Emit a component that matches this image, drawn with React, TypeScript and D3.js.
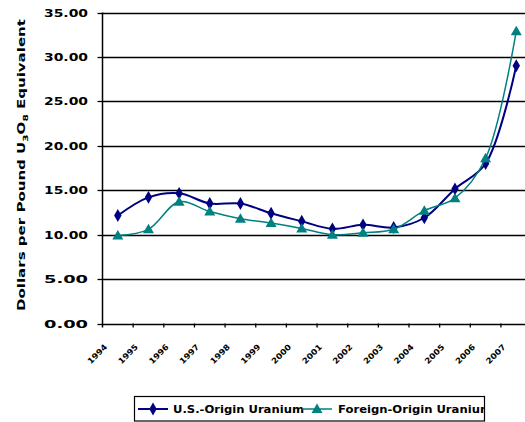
import React from "react";
import * as d3 from "d3";

const years = ["1994","1995","1996","1997","1998","1999","2000","2001","2002","2003","2004","2005","2006","2007"];
const usOrigin = [12.15, 14.2, 14.65, 13.5, 13.5, 12.4, 11.5, 10.65, 11.1, 10.8, 11.9, 15.15, 18.0, 29.0];
const foreignOrigin = [9.9, 10.6, 13.7, 12.6, 11.8, 11.3, 10.7, 10.0, 10.2, 10.6, 12.7, 14.1, 18.6, 32.9];
const yTicks = [0, 5, 10, 15, 20, 25, 30, 35];

const W = 525, H = 422;
const left = 102.5, top = 12.5, bottom = 323.5;
const step = 30.65;

export default function App() {
  const x = d3.scaleBand<string>().domain(years).range([left, left + step * years.length]).padding(0);
  const y = d3.scaleLinear().domain([0, 35]).range([bottom, top]);
  const cx = (i: number) => (x(years[i]) as number) + x.bandwidth() / 2;
  const line = d3.line<number>().x((_, i) => cx(i)).y((d) => y(d)).curve(d3.curveCatmullRom.alpha(0.5));
  const diamond = d3.symbol().type(d3.symbolDiamond).size(48)();
  const tri = (px: number, py: number) => `M${px},${py - 5.5}L${px + 5.5},${py + 4}L${px - 5.5},${py + 4}Z`;
  const font = "'DejaVu Sans', Verdana, sans-serif";

  return (
    <svg width={W} height={H} style={{ position: "absolute", left: 0, top: 0, background: "#fff" }} fontFamily={font}>
      <defs>
        <clipPath id="legclip"><rect x={135} y={396} width={349} height={26} /></clipPath>
      </defs>
      {yTicks.map((t) => (
        <g key={t}>
          <line x1={left} x2={W} y1={Math.round(y(t)) + 0.5} y2={Math.round(y(t)) + 0.5} stroke="#000" strokeWidth={1.3} />
          <line x1={left - 5} x2={left} y1={Math.round(y(t)) + 0.5} y2={Math.round(y(t)) + 0.5} stroke="#000" strokeWidth={1.3} />
          <text x={88} y={y(t) + 4} textAnchor="end" fontSize={10} fontWeight="bold" textLength={44} lengthAdjust="spacingAndGlyphs">{d3.format(".2f")(t)}</text>
        </g>
      ))}
      <line x1={left} x2={left} y1={top} y2={bottom + 4} stroke="#000" strokeWidth={1.5} />
      {years.map((yr, i) => (
        <g key={yr}>
          <line x1={(x(yr) as number) + step} x2={(x(yr) as number) + step} y1={bottom} y2={bottom + 4} stroke="#000" strokeWidth={1.3} />
          <text transform={`translate(${cx(i) - 10},${bottom + 24}) rotate(-45)`} textAnchor="end" fontSize={8} fontWeight="bold" textLength={24} lengthAdjust="spacingAndGlyphs">{yr}</text>
        </g>
      ))}
      <text transform={`translate(25,${165}) rotate(-90)`} textAnchor="middle" fontSize={10} fontWeight="bold" textLength={292} lengthAdjust="spacingAndGlyphs">
        Dollars per Pound U<tspan fontSize={7} dy={3}>3</tspan><tspan dy={-3}>O</tspan><tspan fontSize={7} dy={3}>8</tspan><tspan dy={-3}> Equivalent</tspan>
      </text>
      <path d={line(usOrigin) || ""} fill="none" stroke="#000080" strokeWidth={2} />
      {usOrigin.map((v, i) => (
        <path key={i} d={diamond || ""} transform={`translate(${cx(i)},${y(v)})`} fill="#000080" />
      ))}
      <path d={line(foreignOrigin) || ""} fill="none" stroke="#008080" strokeWidth={1.5} />
      {foreignOrigin.map((v, i) => (
        <path key={i} d={tri(cx(i), y(v))} fill="#008080" />
      ))}
      <rect x={134.5} y={396.5} width={350} height={24.5} fill="none" stroke="#000" strokeWidth={1.2} />
      <g clipPath="url(#legclip)">
        <line x1={138} x2={168} y1={409} y2={409} stroke="#000080" strokeWidth={2} />
        <path d={diamond || ""} transform="translate(153,409)" fill="#000080" />
        <text x={173} y={413} fontSize={10} fontWeight="bold" textLength={131} lengthAdjust="spacingAndGlyphs">U.S.-Origin Uranium</text>
        <line x1={302} x2={332} y1={409} y2={409} stroke="#008080" strokeWidth={1.5} />
        <path d={tri(317, 409)} fill="#008080" />
        <text x={338} y={413} fontSize={10} fontWeight="bold" textLength={154} lengthAdjust="spacingAndGlyphs">Foreign-Origin Uranium</text>
      </g>
    </svg>
  );
}
